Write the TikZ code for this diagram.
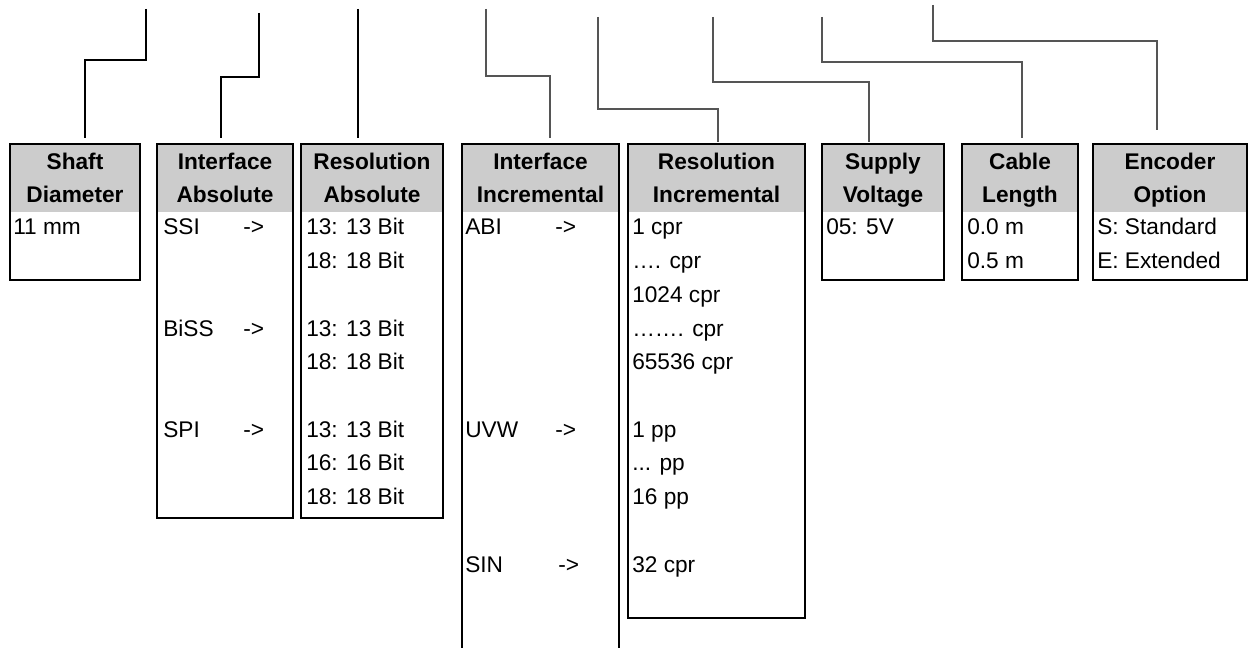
\documentclass[tikz,border=0pt]{standalone}
\usepackage{fontspec}
\setmainfont{Liberation Sans}
\usetikzlibrary{fit}
\definecolor{hdr}{RGB}{204,204,204}
\definecolor{conn}{RGB}{85,85,85}
\begin{document}
\begin{tikzpicture}[x=0.75pt,y=-0.75pt,
  boxline/.style={draw=black,line width=2.2pt,inner sep=0pt},
  hdrfill/.style={fill=hdr,draw=none},
  htext/.style={anchor=base,inner sep=0pt,font=\fontsize{17}{20}\selectfont\bfseries},
  btext/.style={anchor=base west,inner sep=0pt,font=\fontsize{17}{20}\selectfont},
  connA/.style={draw=black,line width=1.4pt},
  connB/.style={draw=conn,line width=0.8pt}]
\useasboundingbox (0,0) rectangle (1253,648);

% header fills
\fill[hdrfill] (10,144) rectangle (140,212);
\fill[hdrfill] (157,144) rectangle (293,212);
\fill[hdrfill] (301,144) rectangle (443,212);
\fill[hdrfill] (462,144) rectangle (619,212);
\fill[hdrfill] (628,144) rectangle (805,212);
\fill[hdrfill] (822,144) rectangle (944,212);
\fill[hdrfill] (962,144) rectangle (1078,212);
\fill[hdrfill] (1093,144) rectangle (1247,212);

% boxes
\node[boxline,fit={(10,144)(140,280)}] (shaft) {};
\node[boxline,fit={(157,144)(293,518)}] (ifabs) {};
\node[boxline,fit={(301,144)(443,518)}] (resabs) {};
\draw[black,line width=2.2pt] (462,650) -- (462,144) -- (619,144) -- (619,650);
\coordinate (ifinc) at (540.5,144);
\node[boxline,fit={(628,144)(805,618)}] (resinc) {};
\node[boxline,fit={(822,144)(944,280)}] (supply) {};
\node[boxline,fit={(962,144)(1078,280)}] (cable) {};
\node[boxline,fit={(1093,144)(1247,280)}] (encoder) {};

% headers
\node[htext] (h1a) at (75,170) {Shaft};
\node[htext] (h1b) at (75,203) {Diameter};
\node[htext] (h2a) at (225,170) {Interface};
\node[htext] (h2b) at (225,203) {Absolute};
\node[htext] (h3a) at (372,170) {Resolution};
\node[htext] (h3b) at (372,203) {Absolute};
\node[htext] (h4a) at (540.5,170) {Interface};
\node[htext] (h4b) at (540.5,203) {Incremental};
\node[htext] (h5a) at (716.5,170) {Resolution};
\node[htext] (h5b) at (716.5,203) {Incremental};
\node[htext] (h6a) at (883,170) {Supply};
\node[htext] (h6b) at (883,203) {Voltage};
\node[htext] (h7a) at (1020,170) {Cable};
\node[htext] (h7b) at (1020,203) {Length};
\node[htext] (h8a) at (1170,170) {Encoder};
\node[htext] (h8b) at (1170,203) {Option};

% body rows: baseline = 235 + 33.7 i
\node[btext] (s0) at (13,235) {11 mm};

\node[btext] (ia0) at (163,235) {SSI};
\node[btext] (ia0a) at (243,235) {->};
\node[btext] (ia3) at (163,336.1) {BiSS};
\node[btext] (ia3a) at (243,336.1) {->};
\node[btext] (ia6) at (163,437.2) {SPI};
\node[btext] (ia6a) at (243,437.2) {->};

\node[btext] (ra0) at (306,235) {13: 13 Bit};
\node[btext] (ra1) at (306,268.7) {18: 18 Bit};
\node[btext] (ra3) at (306,336.1) {13: 13 Bit};
\node[btext] (ra4) at (306,369.8) {18: 18 Bit};
\node[btext] (ra6) at (306,437.2) {13: 13 Bit};
\node[btext] (ra7) at (306,470.9) {16: 16 Bit};
\node[btext] (ra8) at (306,504.6) {18: 18 Bit};

\node[btext] (ii0) at (465,235) {ABI};
\node[btext] (ii0a) at (555,235) {->};
\node[btext] (ii6) at (465,437.2) {UVW};
\node[btext] (ii6a) at (555,437.2) {->};
\node[btext] (ii10) at (465,572) {SIN};
\node[btext] (ii10a) at (558,572) {->};

\node[btext] (ri0) at (632,235) {1 cpr};
\node[btext] (ri1) at (632,268.7) {…. cpr};
\node[btext] (ri2) at (632,302.4) {1024 cpr};
\node[btext] (ri3) at (632,336.1) {……. cpr};
\node[btext] (ri4) at (632,369.8) {65536 cpr};
\node[btext] (ri6) at (632,437.2) {1 pp};
\node[btext] (ri7) at (632,470.9) {... pp};
\node[btext] (ri8) at (632,504.6) {16 pp};
\node[btext] (ri10) at (632,572) {32 cpr};

\node[btext] (sv0) at (826,235) {05: 5V};
\node[btext] (cl0) at (967,235) {0.0 m};
\node[btext] (cl1) at (967,268.7) {0.5 m};
\node[btext] (eo0) at (1097,235) {S: Standard};
\node[btext] (eo1) at (1097,268.7) {E: Extended};

% connector ends
\coordinate (t1) at (146,9);   \coordinate (e1) at (85,138);
\coordinate (t2) at (259,13);  \coordinate (e2) at (221,138);
\coordinate (t3) at (358,9);   \coordinate (e3) at (358,138);
\coordinate (t4) at (486,9);   \coordinate (e4) at (550,138);
\coordinate (t5) at (598,17);  \coordinate (e5) at (718,142);
\coordinate (t6) at (713,17);  \coordinate (e6) at (869,142);
\coordinate (t7) at (822,17);  \coordinate (e7) at (1022,138);
\coordinate (t8) at (933,5);   \coordinate (e8) at (1157,130);

\draw[connA] (t1) |- (85,60) -- (e1);
\draw[connA] (t2) |- (221,77) -- (e2);
\draw[connA] (t3) -- (e3);
\draw[connB] (t4) |- (550,76) -- (e4);
\draw[connB] (t5) |- (718,109) -- (e5);
\draw[connB] (t6) |- (869,82) -- (e6);
\draw[connB] (t7) |- (1022,62) -- (e7);
\draw[connB] (t8) |- (1157,41) -- (e8);
\end{tikzpicture}
\end{document}
